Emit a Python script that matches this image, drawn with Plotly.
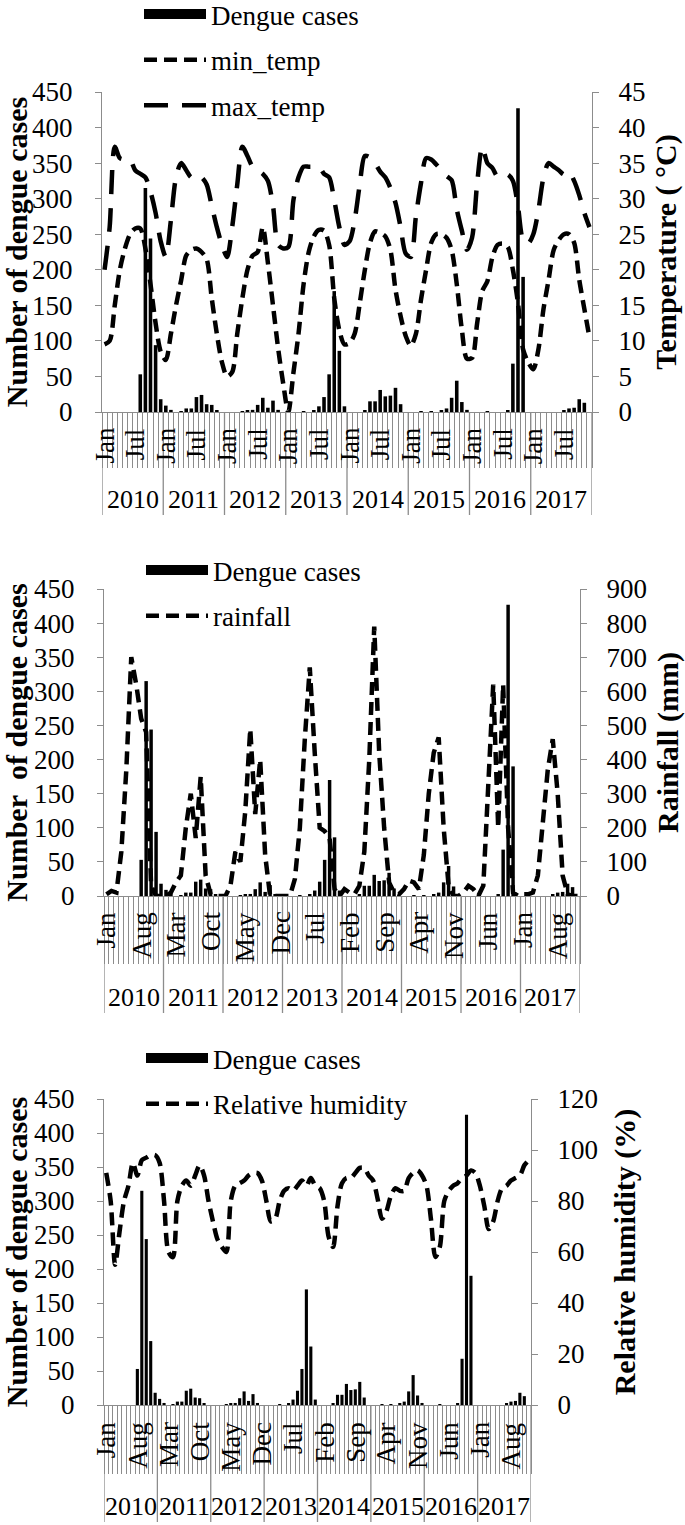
import plotly.graph_objects as go

# ---------------- data ----------------
years = [2010, 2011, 2012, 2013, 2014, 2015, 2016, 2017]
month_names = ["Jan", "Feb", "Mar", "Apr", "May", "Jun",
               "Jul", "Aug", "Sep", "Oct", "Nov", "Dec"]

dengue_cases = [
    0, 0, 0, 0, 0, 0, 0, 53, 315, 244, 94, 18,          # 2010
    9, 3, 0, 1, 5, 5, 21, 24, 11, 10, 2, 0,             # 2011
    0, 0, 0, 1, 2, 3, 10, 20, 6, 16, 3, 0,              # 2012
    0, 0, 0, 1, 0, 2, 8, 21, 53, 170, 86, 8,            # 2013
    0, 0, 0, 2, 15, 15, 31, 22, 23, 34, 11, 0,          # 2014
    0, 0, 1, 0, 1, 0, 2, 5, 20, 44, 14, 3,              # 2015
    0, 0, 0, 1, 0, 0, 0, 2, 68, 427, 190, 0,            # 2016
    0, 0, 0, 0, 0, 0, 2, 5, 6, 18, 13, 0,               # 2017
]

min_temp = [
    9.5, 10, 15, 20, 23, 25, 25.8, 25.8, 23, 18, 12.5, 8.5,
    7.3, 11, 15, 18.5, 22, 22.8, 23, 22.5, 21.5, 16, 11, 7,
    5, 5.6, 11, 16, 20, 22, 22.5, 26, 21, 15, 9, 4,
    0, 5.5, 11, 18, 22.5, 24.7, 25.6, 25.5, 23.5, 16, 11.5, 9.5,
    9.7, 11, 15.3, 20, 23.8, 25.4, 25.2, 24.7, 22.8, 17.2, 13.5, 10.7,
    9.3, 11, 15.8, 20, 23.8, 25, 25, 24.5, 22.8, 18, 11.6, 7.5,
    7.6, 12.5, 17, 18.4, 21.8, 23.5, 23.7, 23.2, 20, 15.3, 8.8, 7,
    6, 8.8, 14.5, 18.6, 22.8, 24.2, 25, 25, 23.8, 18.6, 14.5, 10.5,
]

max_temp = [
    20, 26, 37.3, 35.7, 35.5, 35.5, 34, 33.5, 33, 31, 28, 24,
    21.8, 27, 33, 35, 34, 33, 33.3, 33, 32, 29, 26, 23.5,
    21.8, 26, 32, 37.3, 36, 34.5, 34, 33.5, 32.5, 29, 23.5, 23,
    23.2, 29.8, 33, 34.5, 34.5, 34.5, 34.5, 33.5, 33, 29.8, 26, 23.5,
    24, 27, 32, 36, 35.8, 35, 33.8, 33, 31.5, 29.4, 26, 22.3,
    21.8, 27.5, 32.2, 35.7, 35.5, 34.8, 34, 33.2, 32.6, 28.5, 25.5, 22.8,
    24.5, 32.2, 37.3, 35, 34.3, 33.1, 33.3, 33.4, 32.5, 28.9, 24.2, 23.7,
    25, 28.4, 33, 35, 34.5, 34, 33.4, 33.8, 32.5, 30.5, 28, 26,
]

rainfall = [
    5, 15, 10, 130, 370, 700, 620, 520, 480, 30, 0, 0,
    0, 10, 40, 60, 200, 300, 170, 350, 60, 5, 0, 0,
    0, 30, 130, 100, 250, 490, 240, 400, 120, 0, 0, 0,
    0, 0, 50, 200, 460, 670, 420, 200, 190, 170, 20, 0,
    20, 10, 5, 30, 130, 400, 790, 420, 200, 40, 10, 5,
    20, 45, 40, 20, 120, 300, 420, 465, 200, 30, 0, 0,
    10, 30, 20, 0, 30, 300, 620, 200, 620, 200, 10, 0,
    5, 5, 10, 60, 220, 370, 460, 300, 60, 5, 0, 0,
]

humidity = [
    91, 80, 55, 68, 80, 86, 95, 90, 96, 97, 98, 98,
    95, 80, 60, 58, 80, 86, 88, 86, 90, 94, 90, 80,
    72, 65, 62, 60, 80, 86, 87, 88, 90, 91, 91, 88,
    80, 72, 73, 80, 84, 85, 84, 86, 88, 86, 89, 86,
    85, 80, 66, 62, 78, 87, 89, 89, 91, 93, 93, 90,
    88, 81, 73, 76, 82, 85, 84, 84, 89, 91, 92, 90,
    86, 73, 58, 62, 80, 84, 86, 87, 89, 90, 92, 91,
    86, 78, 69, 72, 80, 85, 86, 88, 89, 90, 94, 96,
]

left_ticks = [0, 50, 100, 150, 200, 250, 300, 350, 400, 450]
temp_ticks = [0, 5, 10, 15, 20, 25, 30, 35, 40, 45]
rain_ticks = [0, 100, 200, 300, 400, 500, 600, 700, 800, 900]
hum_ticks = [0, 20, 40, 60, 80, 100, 120]

# ---------------- layout helpers ----------------
W, H = 685, 1525
FONT = "Times New Roman, Liberation Serif, serif"
GREY = "#8c8c8c"
FS = 27
TS = 30
n = len(dengue_cases)
idx = list(range(n))
month_lab = [month_names[i % 12] for i in idx]


def fx(px):
    return px / W


def fy(py):
    return 1 - py / H


panels = [
    dict(x0=102, x1=592, top=92, bot=412, step=6, ticklen=55, mon_off=14,
         year_off=88, sep_len=103, right=temp_ticks, rtitle="Temperature ( °C)",
         ltitle="Number of dengue cases", leg_top=-10, rstand=10),
    dict(x0=104, x1=580, top=589, bot=896, step=7, ticklen=67, mon_off=14,
         year_off=101, sep_len=117, right=rain_ticks, rtitle="Rainfall (mm)",
         ltitle="Number&nbsp; of dengue cases", leg_top=546, rstand=10),
    dict(x0=104, x1=531, top=1099, bot=1405, step=7, ticklen=68, mon_off=15,
         year_off=102, sep_len=117, right=hum_ticks, rtitle="Relative humidity (%)",
         ltitle="Number of dengue cases", leg_top=1034, rstand=16),
]

lines_per_panel = [
    [("min_temp", min_temp, "13px,7px", "spline"), ("max_temp", max_temp, "24px,14px", "spline")],
    [("rainfall", rainfall, "13px,7px", "linear")],
    [("Relative humidity", humidity, "13px,7px", "spline")],
]

fig = go.Figure()
layout = dict(width=W, height=H, margin=dict(l=0, r=0, t=0, b=0, autoexpand=False),
              paper_bgcolor="white", plot_bgcolor="white",
              font=dict(family=FONT, size=FS, color="black"),
              bargap=0.3, showlegend=True)
annotations, shapes = [], []

for p, cfg in enumerate(panels):
    xa = "x" if p == 0 else f"x{p+1}"
    ya = f"y{2*p+1}" if p else "y"
    yb = f"y{2*p+2}"
    xkey = "xaxis" if p == 0 else f"xaxis{p+1}"
    ykey = "yaxis" if p == 0 else f"yaxis{2*p+1}"
    ykey2 = f"yaxis{2*p+2}"
    legname = "legend" if p == 0 else f"legend{p+1}"
    ph = cfg["bot"] - cfg["top"]

    # legend-only swatch for the bars (wide black block)
    fig.add_trace(go.Scatter(x=[None], y=[None], mode="lines", name="Dengue cases",
                             line=dict(color="black", width=15), xaxis=xa, yaxis=ya,
                             legend=legname, legendgroup=f"d{p}", showlegend=True))
    fig.add_trace(go.Bar(x=idx, y=dengue_cases, marker_color="black",
                         marker_line_width=0, xaxis=xa, yaxis=ya,
                         showlegend=False, name="Dengue cases"))
    for k, (name, vals, dash, shape) in enumerate(lines_per_panel[p]):
        fig.add_trace(go.Scatter(x=idx, y=vals, mode="lines", name=name,
                                 line=dict(color="black", width=4.5, dash=dash,
                                           shape=shape, smoothing=0.8),
                                 xaxis=xa, yaxis=yb, legend=legname,
                                 legendgroup=f"l{p}{k}"))

    xd = [fx(cfg["x0"]), fx(cfg["x1"])]
    yd = [fy(cfg["bot"]), fy(cfg["top"])]
    layout[xkey] = dict(domain=xd, anchor=ya, range=[-0.5, n - 0.5], automargin=False,
                        tickmode="array", tickvals=[i - 0.5 for i in range(n + 1)],
                        ticks="outside", ticklen=cfg["ticklen"], tickcolor=GREY,
                        tickwidth=1, showticklabels=False, showgrid=False,
                        zeroline=False, showline=True, linecolor=GREY, linewidth=1.3,
                        fixedrange=True)
    layout[ykey] = dict(domain=yd, anchor=xa, range=[0, left_ticks[-1]], automargin=True,
                        tickmode="array", tickvals=left_ticks, ticks="outside",
                        ticklen=6, tickcolor=GREY, showline=True, linecolor=GREY,
                        linewidth=1.3, showgrid=False, zeroline=False,
                        ticklabelstandoff=17,
                        title=dict(text=f"<b>{cfg['ltitle']}</b>", standoff=10,
                                   font=dict(size=TS)))
    rt = cfg["right"]
    layout[ykey2] = dict(overlaying=ya, side="right", anchor=xa, automargin=True,
                         range=[0, rt[-1]], tickmode="array", tickvals=rt,
                         ticks="outside", ticklen=6, tickcolor=GREY, showline=True,
                         linecolor=GREY, linewidth=1.3, showgrid=False, zeroline=False,
                         ticklabelstandoff=14,
                         title=dict(text=f"<b>{cfg['rtitle']}</b>", standoff=cfg["rstand"],
                                    font=dict(size=TS)))
    layout[legname] = dict(x=fx(cfg["x0"] + 37), xanchor="left",
                           y=fy(cfg["leg_top"]), yanchor="top",
                           bgcolor="rgba(0,0,0,0)", font=dict(size=FS),
                           itemwidth=62, tracegroupgap=7.5,
                           traceorder="grouped")

    # month labels
    for i in range(0, n, cfg["step"]):
        annotations.append(dict(x=i, y=-cfg["mon_off"] / ph, xref=xa,
                                yref=f"{ya} domain", text=month_lab[i],
                                textangle=-90, showarrow=False, yanchor="top",
                                xanchor="center", font=dict(size=FS)))
    # year separators and labels
    for j, yr in enumerate(years):
        annotations.append(dict(x=j * 12 + 5.5, y=-cfg["year_off"] / ph, xref=xa,
                                yref=f"{ya} domain", text=str(yr), showarrow=False,
                                yanchor="middle", xanchor="center",
                                font=dict(size=26)))
    for j in range(len(years) + 1):
        shapes.append(dict(type="line", xref=xa, yref=f"{ya} domain",
                           x0=j * 12 - 0.5, x1=j * 12 - 0.5, y0=0,
                           y1=-cfg["sep_len"] / ph,
                           line=dict(color=GREY, width=1.3)))

layout["annotations"] = annotations
layout["shapes"] = shapes
fig.update_layout(**layout)
fig.write_html("out.html", config={"displayModeBar": False},
               post_script="document.body.style.margin='0';"
                           "document.body.style.overflow='hidden';")
